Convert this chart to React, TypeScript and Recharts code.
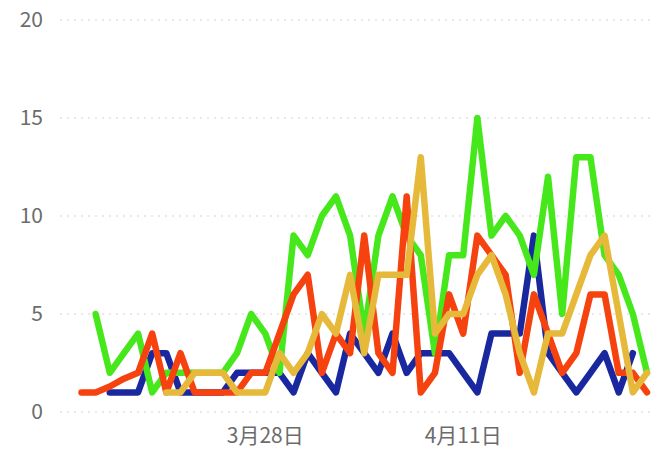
import React from "react";
import { LineChart, Line, XAxis, YAxis, CartesianGrid } from "recharts";

const dates = [
  "3月15日", "3月16日", "3月17日", "3月18日", "3月19日", "3月20日", "3月21日", "3月22日",
  "3月23日", "3月24日", "3月25日", "3月26日", "3月27日", "3月28日", "3月29日", "3月30日",
  "3月31日", "4月1日", "4月2日", "4月3日", "4月4日", "4月5日", "4月6日", "4月7日",
  "4月8日", "4月9日", "4月10日", "4月11日", "4月12日", "4月13日", "4月14日", "4月15日",
  "4月16日", "4月17日", "4月18日", "4月19日", "4月20日", "4月21日", "4月22日", "4月23日",
  "4月24日",
];

const blueSeries = [
  null, null, 1, 1, 1, 3, 3, 1, 1, 1, 1, 2, 2, 2, 2, 1, 3, 2, 1, 4, 3,
  2, 4, 2, 3, 3, 3, 2, 1, 4, 4, 4, 9, 3, 2, 1, 2, 3, 1, 3, null,
];
const greenSeries = [
  null, 5, 2, 3, 4, 1, 2, 2, 2, 2, 2, 3, 5, 4, 2, 9, 8, 10, 11, 9, 4,
  9, 11, 9, 8, 3, 8, 8, 15, 9, 10, 9, 7, 12, 5, 13, 13, 8, 7, 5, 2,
];
const redSeries = [
  1, 1, 1.3, 1.7, 2, 4, 1, 3, 1, 1, 1, 1, 2, 2, 4, 6, 7, 2, 4, 3, 9,
  3, 2, 11, 1, 2, 6, 4, 9, 8, 7, 2, 6, 4, 2, 3, 6, 6, 2, 2, 1,
];
const yellowSeries = [
  null, null, null, null, null, null, 1, 1, 2, 2, 2, 1, 1, 1, 3, 2, 3, 5, 4, 7, 3,
  7, 7, 7, 13, 4, 5, 5, 7, 8, 6, 3, 1, 4, 4, 6, 8, 9, 5, 1, 2,
];

const xTicks = ["3月28日", "4月11日"];
const yTicks = [0, 5, 10, 15, 20];

const data = dates.map((d, i) => ({
  date: d,
  blue: blueSeries[i],
  green: greenSeries[i],
  red: redSeries[i],
  yellow: yellowSeries[i],
}));

const FONT = "'Noto Sans CJK SC', 'Noto Sans', sans-serif";

export default function App() {
  return (
    <div style={{ position: "absolute", left: 0, top: 0, background: "#fff" }}>
      <LineChart
        width={658}
        height={451}
        data={data}
        margin={{ top: 20, right: 3, bottom: 0, left: 0 }}
      >
        <CartesianGrid vertical={false} stroke="#e2e2e2" strokeDasharray="2 5" strokeWidth={1.5} />
        <XAxis
          dataKey="date"
          ticks={xTicks}
          interval={0}
          axisLine={false}
          tickLine={false}
          tickSize={0}
          tickMargin={16}
          height={39}
          padding={{ left: 21.5, right: 8 }}
          tick={{ fill: "#6c6c6c", fontSize: 21, fontFamily: FONT }}
        />
        <YAxis
          domain={[0, 20]}
          ticks={yTicks}
          axisLine={false}
          tickLine={false}
          tickSize={0}
          tickMargin={17}
          width={60}
          tick={{ fill: "#6c6c6c", fontSize: 21, fontFamily: FONT }}
        />
        <Line type="linear" dataKey="blue" stroke="#1a28a0" strokeWidth={6.5} dot={false} activeDot={false} isAnimationActive={false} strokeLinejoin="round" strokeLinecap="round" />
        <Line type="linear" dataKey="green" stroke="#46e81c" strokeWidth={6.5} dot={false} activeDot={false} isAnimationActive={false} strokeLinejoin="round" strokeLinecap="round" />
        <Line type="linear" dataKey="red" stroke="#f5420f" strokeWidth={6.5} dot={false} activeDot={false} isAnimationActive={false} strokeLinejoin="round" strokeLinecap="round" />
        <Line type="linear" dataKey="yellow" stroke="#e6b93a" strokeWidth={6.5} dot={false} activeDot={false} isAnimationActive={false} strokeLinejoin="round" strokeLinecap="round" />
      </LineChart>
    </div>
  );
}
